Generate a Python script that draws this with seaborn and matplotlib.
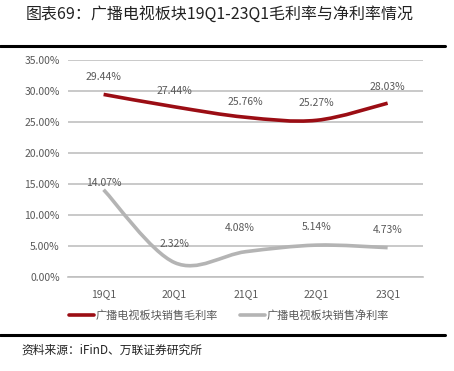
import numpy as np
import pandas as pd
import matplotlib
matplotlib.use("Agg")
import matplotlib.pyplot as plt
from matplotlib.path import Path
from matplotlib.patches import PathPatch
from matplotlib.lines import Line2D
import seaborn as sns

quarters = ["19Q1", "20Q1", "21Q1", "22Q1", "23Q1"]
gross_margin = [29.44, 27.44, 25.76, 25.27, 28.03]
net_margin = [14.07, 2.32, 4.08, 5.14, 4.73]
series_names = ["广播电视板块销售毛利率", "广播电视板块销售净利率"]

sns.set_style("white")
plt.rcParams['font.family'] = ['Noto Sans CJK SC', 'DejaVu Sans']

red = "#9b0d14"
grey = "#b4b4b4"
txt = "#595959"

df = pd.DataFrame({
    "q": quarters * 2,
    "pos": list(range(len(quarters))) * 2,
    "val": gross_margin + net_margin,
    "series": [series_names[0]] * 5 + [series_names[1]] * 5,
})

fig = plt.figure(figsize=(4.54, 3.71), dpi=100)
ax = fig.add_axes([0.15, 0.2534, 0.782, 0.585])

# draw with seaborn then swap the straight segments for smoothed curves (Excel style)
sns.lineplot(data=df, x="pos", y="val", hue="series", palette=[red, grey],
             legend=False, ax=ax)


def smooth_path(xs, ys):
    pts = np.column_stack([xs, ys]).astype(float)
    verts = [pts[0]]
    codes = [Path.MOVETO]
    n = len(pts)
    for i in range(n - 1):
        p0 = pts[i - 1] if i > 0 else pts[i]
        p1 = pts[i]
        p2 = pts[i + 1]
        p3 = pts[i + 2] if i + 2 < n else pts[i + 1]
        c1 = p1 + (p2 - p0) / 6.0
        c2 = p2 - (p3 - p1) / 6.0
        verts += [c1, c2, p2]
        codes += [Path.CURVE4] * 3
    return Path(verts, codes)


for line, color in zip(ax.get_lines(), [red, grey]):
    xd, yd = line.get_xdata(), line.get_ydata()
    line.set_visible(False)
    ax.add_patch(PathPatch(smooth_path(xd, yd), facecolor="none",
                           edgecolor=color, lw=2.6, capstyle="butt", zorder=3))

# value labels (offsets in pixels, placed like the original)
gross_off = [(0, 17), (0, 16), (0, 15), (0, 17), (0, 16)]
net_off = [(0, 7), (0, 19), (-6, 24), (0, 18), (0, 18)]
for i, (g, n) in enumerate(zip(gross_margin, net_margin)):
    ax.annotate(f"{g:.2f}%", (i, g), xytext=gross_off[i], textcoords="offset pixels",
                ha="center", va="center", fontsize=7.5, color=txt)
    ax.annotate(f"{n:.2f}%", (i, n), xytext=net_off[i], textcoords="offset pixels",
                ha="center", va="center", fontsize=7.5, color=txt)

ax.set_xlim(-0.5, 4.5)
ax.set_ylim(0, 35)
ax.set_yticks(np.arange(0, 36, 5))
ax.set_yticklabels([f"{v:.2f}%" for v in np.arange(0, 36, 5)], fontsize=7.5, color=txt)
ax.set_xticks(range(len(quarters)))
ax.set_xticklabels(quarters, fontsize=7.5, color=txt)
ax.set_xticks(np.arange(-0.5, 4.6, 1), minor=True)
ax.tick_params(axis="x", which="major", length=0, pad=9)
ax.tick_params(axis="x", which="minor", length=4, color="#bfbfbf", width=1)
ax.tick_params(axis="y", length=0, pad=6)
ax.grid(axis="y", color="#c0c0c0", lw=1.2)
ax.set_axisbelow(True)
for s in ["left", "right", "top"]:
    ax.spines[s].set_visible(False)
ax.spines["bottom"].set_color("#c0c0c0")
ax.spines["bottom"].set_linewidth(1.2)
ax.set_xlabel("")
ax.set_ylabel("")

handles = [Line2D([], [], color=red, lw=2.6), Line2D([], [], color=grey, lw=2.6)]
fig.legend(handles, series_names, loc="center", bbox_to_anchor=(0.505, 0.151), ncol=2,
           frameon=False, fontsize=8, handlelength=2.2, handletextpad=0.2,
           columnspacing=2.0, labelcolor=txt)

# title, rules and source
fig.text(0.057, 0.962, "图表69：广播电视板块19Q1-23Q1毛利率与净利率情况", fontsize=11.5,
         ha="left", va="center", color="#222222")
fig.add_artist(Line2D([0, 0.98], [0.876, 0.876], color="black", lw=2.2))
fig.add_artist(Line2D([0, 0.98], [0.098, 0.098], color="black", lw=2.2))
fig.text(0.048, 0.057, "资料来源：iFinD、万联证券研究所", fontsize=8.5, style="italic",
         ha="left", va="center", color="#222222")

fig.savefig("out.png", dpi=100)
